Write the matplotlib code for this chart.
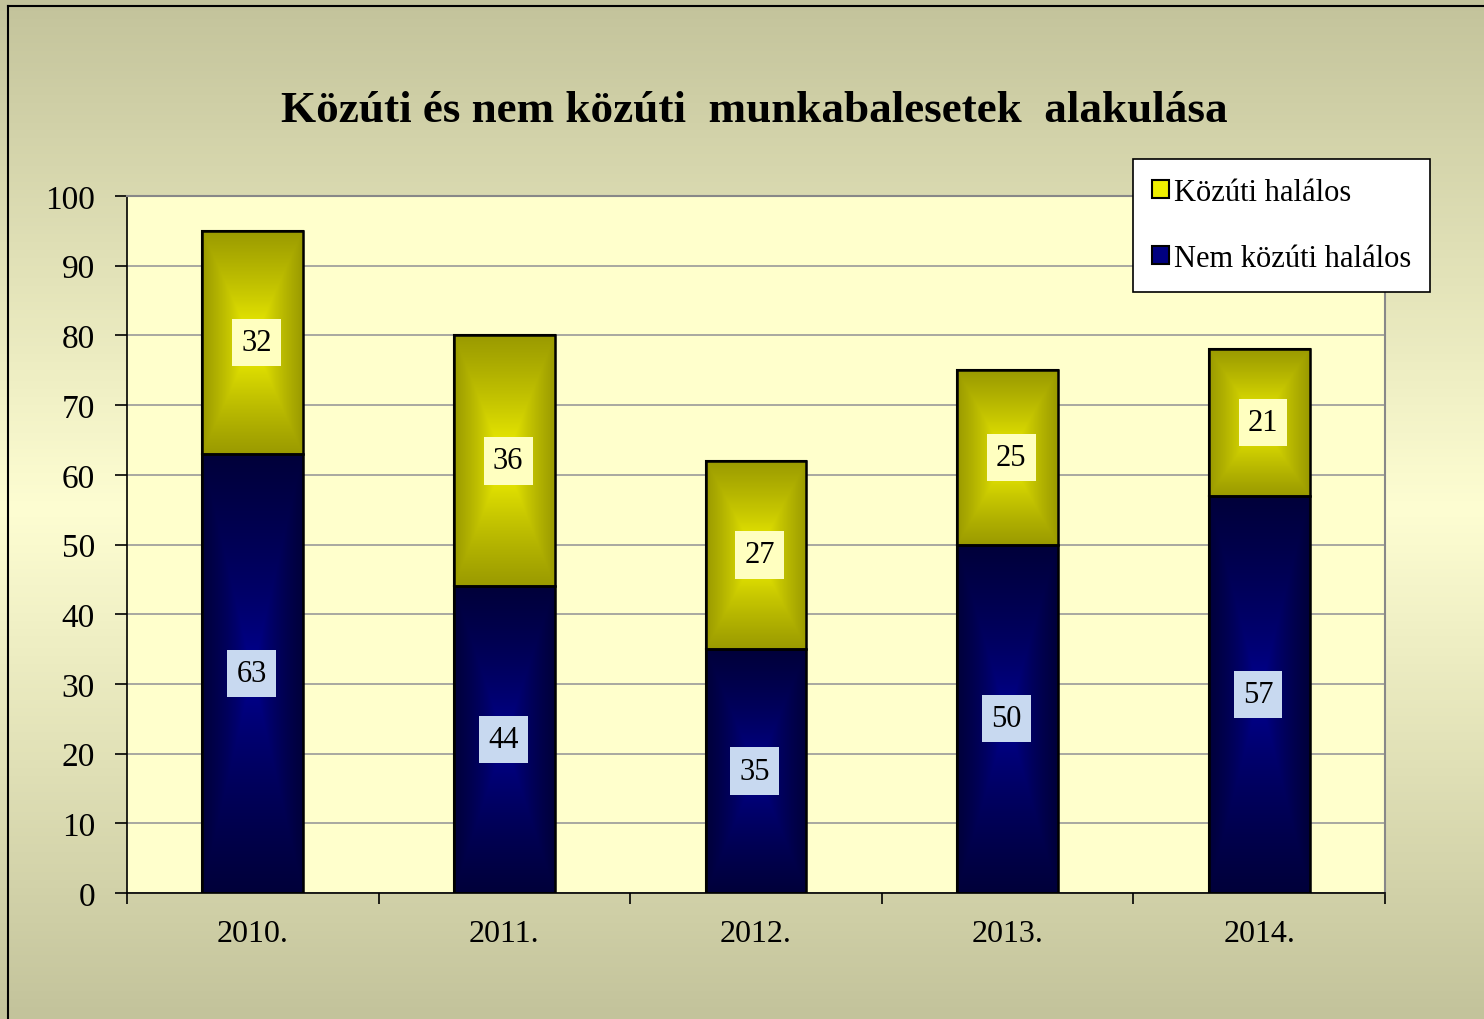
import numpy as np
import matplotlib
matplotlib.use("Agg")
import matplotlib.pyplot as plt
from matplotlib.patches import Patch
from matplotlib.lines import Line2D

plt.rcParams['font.family'] = ['Liberation Serif', 'DejaVu Serif']

# data
years = ['2010.', '2011.', '2012.', '2013.', '2014.']
nem_kozuti = [63, 44, 35, 50, 57]
kozuti = [32, 36, 27, 25, 21]
yticks = [0, 10, 20, 30, 40, 50, 60, 70, 80, 90, 100]
series_names = ['Közúti halálos', 'Nem közúti halálos']

fig = plt.figure(figsize=(14.84, 10.2), dpi=100)

# background gradient of the chart area (dark - light - dark)
bg = fig.add_axes([0, 0, 1, 1], zorder=-10)
yy = np.linspace(0, 1, 256)
t = np.abs(yy - 0.5) * 2
top = np.array([0xc3, 0xc3, 0x9b]) / 255
mid = np.array([0xfe, 0xfe, 0xd2]) / 255
grad = mid[None, :] + (top - mid)[None, :] * t[:, None]
bg.imshow(grad[:, None, :], aspect='auto', extent=(0, 1, 0, 1))
bg.axis('off')
fig.add_artist(Line2D([8 / 1484, 8 / 1484], [0, 1 - 7 / 1020], color='black', lw=1.5))
fig.add_artist(Line2D([8 / 1484, 1], [1 - 7 / 1020, 1 - 7 / 1020], color='black', lw=1.5))

ax = fig.add_axes([127 / 1484, 1 - 894 / 1020, (1385 - 127) / 1484, (894 - 197) / 1020])
ax.set_facecolor('#ffffcc')

x = np.arange(len(years))
w = 0.4
b1 = ax.bar(x, nem_kozuti, w, color='#000066', edgecolor='black', lw=1.5, zorder=2)
b2 = ax.bar(x, kozuti, w, bottom=nem_kozuti, color='#cccc00', edgecolor='black', lw=1.5, zorder=2)


def rect_gradient(center, edge, power, n=200):
    u = np.linspace(-1, 1, n)
    U, V = np.meshgrid(u, u)
    tt = np.maximum(np.abs(U), np.abs(V)) ** power
    c = np.array(center) / 255
    e = np.array(edge) / 255
    return c[None, None, :] + (e - c)[None, None, :] * tt[:, :, None]


yellow_img = rect_gradient((0xff, 0xff, 0x00), (0x9a, 0x9a, 0x00), 0.75)
blue_img = rect_gradient((0x00, 0x00, 0xa0), (0x00, 0x00, 0x3a), 0.6)
for bars, img in ((b1, blue_img), (b2, yellow_img)):
    for p in bars:
        x0, y0 = p.get_x(), p.get_y()
        im = ax.imshow(img, extent=(x0, x0 + p.get_width(), y0, y0 + p.get_height()),
                       aspect='auto', zorder=2.5, interpolation='bilinear')
        im.set_clip_path(p)
        ax.add_patch(plt.Rectangle((x0, y0), p.get_width(), p.get_height(), fill=False,
                                   edgecolor='black', lw=1.8, zorder=3))

# value labels
for i in range(len(years)):
    ax.text(x[i] - 0.005, nem_kozuti[i] / 2, str(nem_kozuti[i]), ha='center', va='center',
            fontsize=22, zorder=4,
            bbox=dict(boxstyle='square,pad=0.3', facecolor='#c8d9f0', edgecolor='none'))
    ax.text(x[i] + 0.015, nem_kozuti[i] + kozuti[i] / 2, str(kozuti[i]), ha='center', va='center',
            fontsize=22, zorder=4,
            bbox=dict(boxstyle='square,pad=0.3', facecolor='#ffffc0', edgecolor='none'))

ax.set_xlim(-0.5, len(years) - 0.5)
ax.set_ylim(0, 100)
ax.set_yticks(yticks)
ax.set_yticklabels([str(v) for v in yticks], fontsize=24)
ax.set_xticks(x)
ax.set_xticklabels(years, fontsize=23)
ax.set_xticks(np.arange(len(years) + 1) - 0.5, minor=True)
ax.tick_params(axis='x', which='major', length=0, pad=19)
ax.tick_params(axis='x', which='minor', length=8, width=1.2, direction='out')
ax.tick_params(axis='y', length=9, width=1.2, direction='out', pad=14)
ax.grid(axis='y', color='#999999', lw=1.2, zorder=0)
ax.set_axisbelow(True)
ax.spines['left'].set_color('black')
ax.spines['bottom'].set_color('black')
ax.spines['left'].set_linewidth(1.2)
ax.spines['bottom'].set_linewidth(1.2)
ax.spines['top'].set_color('#888888')
ax.spines['right'].set_color('#888888')
ax.spines['top'].set_linewidth(1.5)
ax.spines['right'].set_linewidth(1.5)

fig.text(754 / 1484, 1 - 111 / 1020, 'Közúti és nem közúti  munkabalesetek  alakulása',
         ha='center', va='center', fontsize=32.5, fontweight='bold')

handles = [Patch(facecolor='#eeee00', edgecolor='black', lw=1.5),
           Patch(facecolor='#000080', edgecolor='black', lw=1.5)]
leg = fig.legend(handles, series_names, loc='upper right',
                 bbox_to_anchor=(1430 / 1484, 1 - 160 / 1020), fontsize=22,
                 frameon=True, fancybox=False, handlelength=0.55, handleheight=0.55,
                 handletextpad=0.15, labelspacing=1.2, borderpad=0.62, borderaxespad=0)
leg.get_frame().set_edgecolor('black')
leg.get_frame().set_linewidth(1.2)
leg.get_frame().set_facecolor('white')
leg.get_frame().set_alpha(1)
leg.set_zorder(10)

fig.savefig('out.png', dpi=100)
